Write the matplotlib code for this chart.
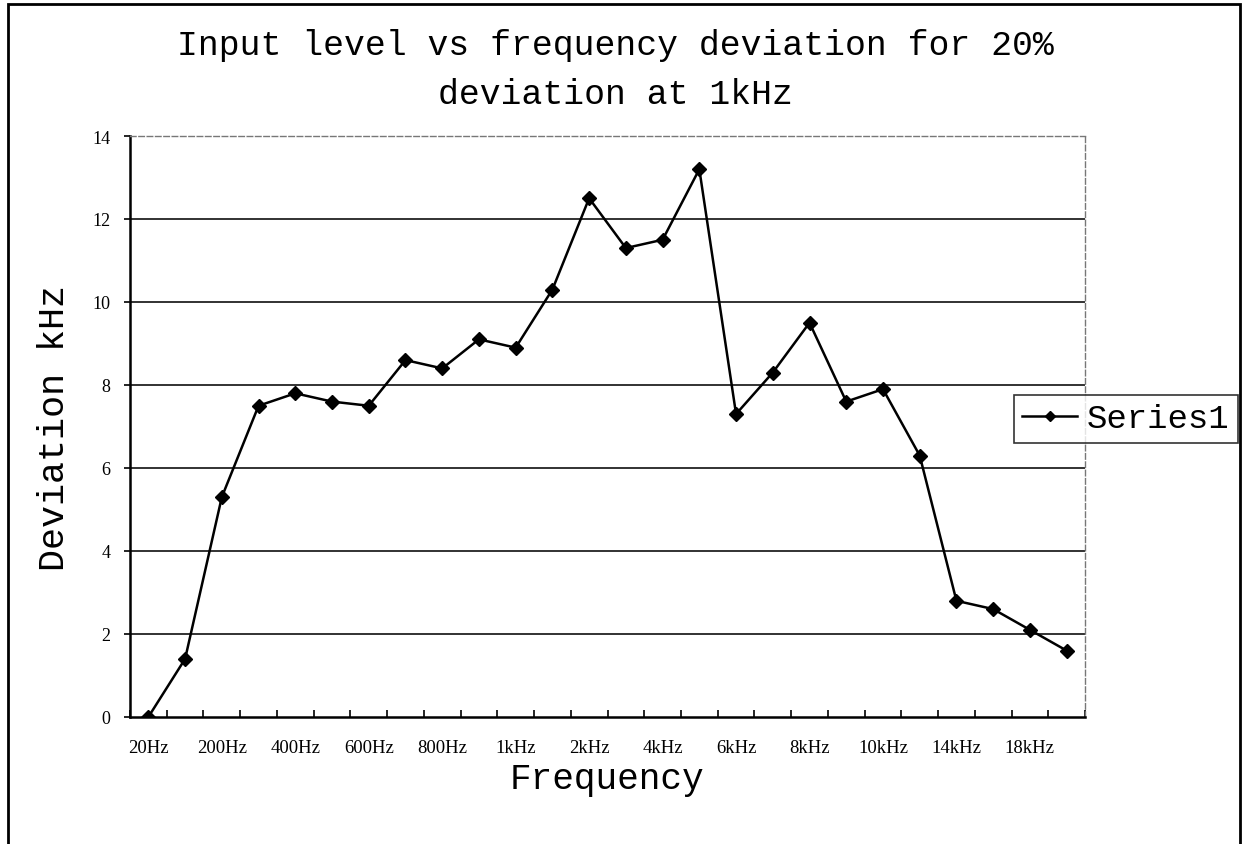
import matplotlib
matplotlib.use("Agg")
import matplotlib.pyplot as plt
from matplotlib.patches import Rectangle
import numpy as np

# --- DATA ---
categories = ["20Hz", "100Hz", "200Hz", "300Hz", "400Hz", "500Hz", "600Hz", "700Hz",
              "800Hz", "900Hz", "1kHz", "1.5kHz", "2kHz", "3kHz", "4kHz", "5kHz",
              "6kHz", "7kHz", "8kHz", "9kHz", "10kHz", "12kHz", "14kHz", "16kHz",
              "18kHz", "20kHz"]
deviation = [0, 1.4, 5.3, 7.5, 7.8, 7.6, 7.5, 8.6, 8.4, 9.1, 8.9, 10.3, 12.5, 11.3,
             11.5, 13.2, 7.3, 8.3, 9.5, 7.6, 7.9, 6.3, 2.8, 2.6, 2.1, 1.6]
y_ticks = [0, 2, 4, 6, 8, 10, 12, 14]

W, H = 1246, 845
fig = plt.figure(figsize=(W / 100, H / 100), dpi=100)
ax = fig.add_axes([130 / W, 1 - 718 / H, (1085 - 130) / W, (718 - 137) / H])

x = np.arange(len(categories))
line, = ax.plot(x, deviation, color="black", lw=1.8, marker="D", ms=7,
                label="Series1")

ax.set_xlim(-0.5, len(categories) - 0.5)
ax.set_ylim(0, 14)
ax.set_yticks(y_ticks)
ax.set_yticklabels([str(v) for v in y_ticks], family="Liberation Serif", fontsize=13)
for v in y_ticks[1:-1]:
    ax.axhline(v, color="#222222", lw=1.3, zorder=1)

# category ticks sit between the categories, labels on every other one
ax.set_xticks(np.arange(len(categories) + 1) - 0.5, minor=False)
ax.set_xticklabels([])
ax.set_xticks(x[::2], minor=True)
ax.set_xticklabels(categories[::2], minor=True, family="Liberation Serif", fontsize=13.5)
ax.tick_params(axis="x", which="major", direction="in", length=5, width=1.2)
ax.tick_params(axis="x", which="minor", length=0, pad=16)
ax.tick_params(axis="y", direction="out", length=4, width=1.2, pad=10)

for s in ["left", "bottom"]:
    ax.spines[s].set_linewidth(1.8)
for s in ["top", "right"]:
    ax.spines[s].set_linestyle((0, (4, 2)))
    ax.spines[s].set_color("#777777")
    ax.spines[s].set_linewidth(1.0)

mono = "Liberation Mono"
fig.text(615 / W, 1 - 45 / H, "Input level vs frequency deviation for 20%",
         ha="center", va="center", family=mono, fontsize=25)
fig.text(615 / W, 1 - 95 / H, "deviation at 1kHz",
         ha="center", va="center", family=mono, fontsize=25)
fig.text(55 / W, 1 - 428 / H, "Deviation kHz", rotation=90,
         ha="center", va="center", family=mono, fontsize=26.5)
fig.text(607 / W, 1 - 789 / H, "Frequency",
         ha="center", va="baseline", family=mono, fontsize=26)

leg = fig.legend(handles=[line], loc="center", bbox_to_anchor=(1126 / W, 1 - 420 / H),
                 prop={"family": mono, "size": 24.5}, frameon=True, fancybox=False,
                 handlelength=1.6, handletextpad=0.3, borderpad=0.25,
                 borderaxespad=0)
leg.get_frame().set_edgecolor("black")
leg.get_frame().set_linewidth(1.2)
leg.legend_handles[0].set_markersize(5)

# outer frame of the chart area
fig.patches.append(Rectangle((8 / W, -0.02), (1240 - 8) / W, 1.02 - 5 / H,
                             transform=fig.transFigure, fill=False,
                             edgecolor="black", lw=2))

plt.savefig("out.png", dpi=100, facecolor="white")
